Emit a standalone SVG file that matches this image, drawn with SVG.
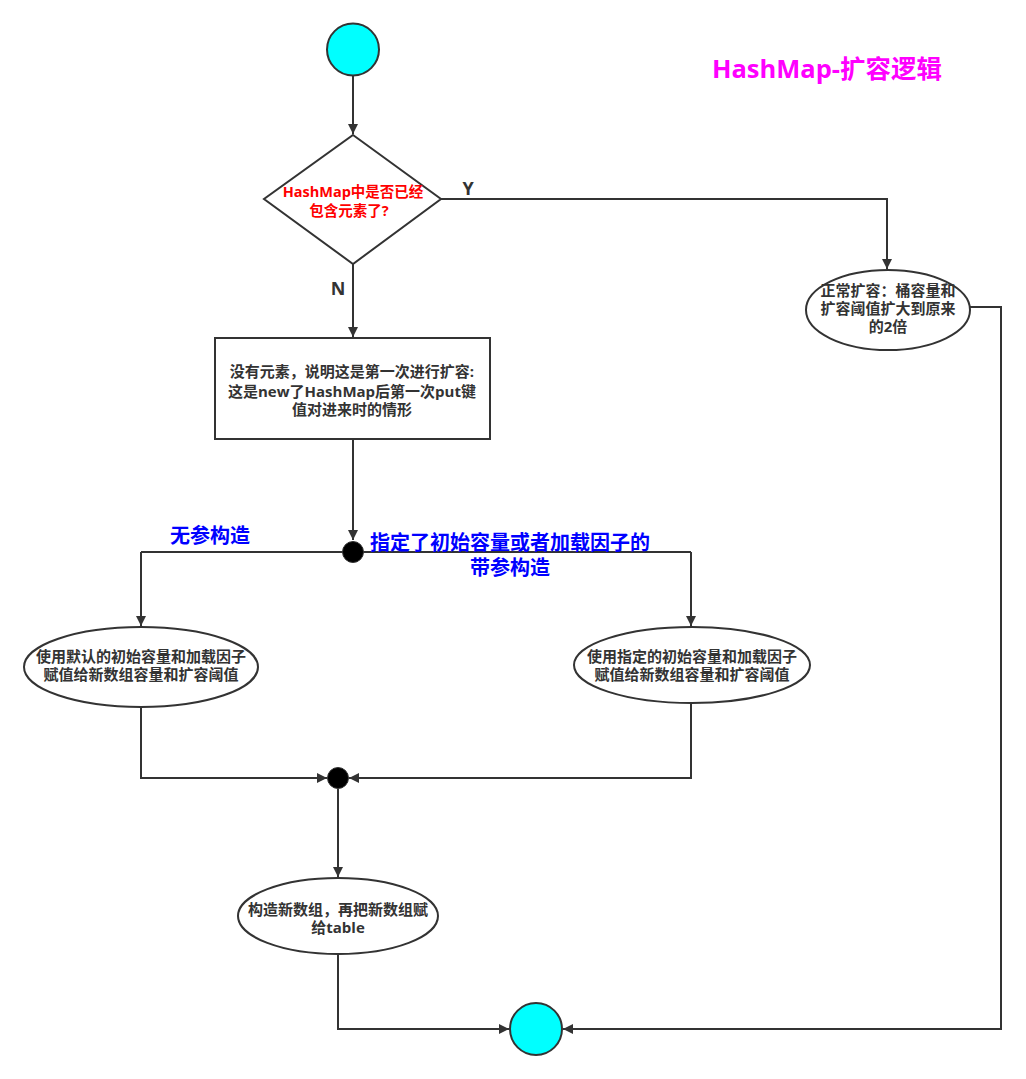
<svg xmlns="http://www.w3.org/2000/svg" width="1026" height="1079" viewBox="0 0 1026 1079">
<defs>
<marker id="arr" viewBox="0 0 10 10" refX="10" refY="5" markerWidth="10" markerHeight="10" markerUnits="userSpaceOnUse" orient="auto">
<path d="M0,0 L10,5 L0,10 Z" fill="#333"/>
</marker>
<style>
.ln{fill:none;stroke:#333;stroke-width:2}
.shape{fill:#fff;stroke:#333;stroke-width:2}
.term{fill:#00FFFF;stroke:#333;stroke-width:2}
.dot{fill:#000;stroke:#333;stroke-width:1}
.t{font-family:"Open Sans","Noto Sans CJK SC",sans-serif;font-weight:bold;font-size:15px;fill:#333;text-anchor:middle}
.red{fill:#FF0000;font-size:14.5px}
.blue{font-family:"Open Sans","Noto Sans CJK SC",sans-serif;font-weight:bold;font-size:20px;fill:#0000FF;text-anchor:middle}
.lbl{font-family:"Open Sans","Noto Sans CJK SC",sans-serif;font-weight:bold;font-size:18px;fill:#333;text-anchor:middle}
.title{font-family:"Open Sans","Noto Sans CJK SC",sans-serif;font-weight:bold;font-size:25.5px;fill:#FF00FF;text-anchor:middle}
</style>
</defs>
<rect width="1026" height="1079" fill="#fff"/>
<g id="connectors">
<path class="ln" d="M353,75 L353,134" marker-end="url(#arr)"/>
<path class="ln" d="M441,199 L887,199 L887,269" marker-end="url(#arr)"/>
<path class="ln" d="M970,307 L1001,307 L1001,1029 L563,1029" marker-end="url(#arr)"/>
<path class="ln" d="M353,264 L353,337" marker-end="url(#arr)"/>
<path class="ln" d="M353,439 L353,540" marker-end="url(#arr)"/>
<path class="ln" d="M141,552 L691,552"/>
<path class="ln" d="M141,552 L141,626" marker-end="url(#arr)"/>
<path class="ln" d="M691,552 L691,626" marker-end="url(#arr)"/>
<path class="ln" d="M141,707 L141,778 L327,778" marker-end="url(#arr)"/>
<path class="ln" d="M691,703 L691,778 L349,778" marker-end="url(#arr)"/>
<path class="ln" d="M338,789 L338,877" marker-end="url(#arr)"/>
<path class="ln" d="M338,953 L338,1029 L509,1029" marker-end="url(#arr)"/>
</g>
<g id="start"><circle class="term" cx="353" cy="49.5" r="26"/></g>
<g id="title"><text class="title" x="827" y="78">HashMap-扩容逻辑</text></g>
<g id="decision">
<polygon class="shape" points="353,135 441,199 353,264 264,199"/>
<text class="t red" x="353" y="197">HashMap中是否已经</text>
<text class="t red" x="349" y="216">包含元素了?</text>
</g>
<g id="labelY"><text class="lbl" x="468" y="195">Y</text></g>
<g id="labelN"><text class="lbl" x="338" y="295">N</text></g>
<g id="normal">
<ellipse class="shape" cx="888" cy="310" rx="82" ry="40"/>
<text class="t" x="888" y="296">正常扩容：桶容量和</text>
<text class="t" x="888" y="314">扩容阈值扩大到原来</text>
<text class="t" x="888" y="332">的2倍</text>
</g>
<g id="first">
<rect class="shape" x="215" y="338" width="275" height="101"/>
<text class="t" x="352" y="377">没有元素，说明这是第一次进行扩容:</text>
<text class="t" x="352" y="397">这是new了HashMap后第一次put键</text>
<text class="t" x="352" y="415">值对进来时的情形</text>
</g>
<g id="fork"><circle class="dot" cx="353" cy="552" r="10.5"/></g>
<g id="labelNoArg"><text class="blue" x="210" y="543">无参构造</text></g>
<g id="labelArg">
<text class="blue" x="510" y="550">指定了初始容量或者加载因子的</text>
<text class="blue" x="510" y="575">带参构造</text>
</g>
<g id="default">
<ellipse class="shape" cx="141" cy="667" rx="117" ry="40"/>
<text class="t" x="141" y="662">使用默认的初始容量和加载因子</text>
<text class="t" x="141" y="680">赋值给新数组容量和扩容阈值</text>
</g>
<g id="specified">
<ellipse class="shape" cx="692" cy="665" rx="118" ry="38"/>
<text class="t" x="692" y="662">使用指定的初始容量和加载因子</text>
<text class="t" x="692" y="680">赋值给新数组容量和扩容阈值</text>
</g>
<g id="merge"><circle class="dot" cx="338" cy="778" r="10.5"/></g>
<g id="build">
<ellipse class="shape" cx="338" cy="916" rx="100" ry="38"/>
<text class="t" x="338" y="915">构造新数组，再把新数组赋</text>
<text class="t" x="338" y="933">给table</text>
</g>
<g id="end"><circle class="term" cx="536" cy="1029" r="26"/></g>
</svg>
